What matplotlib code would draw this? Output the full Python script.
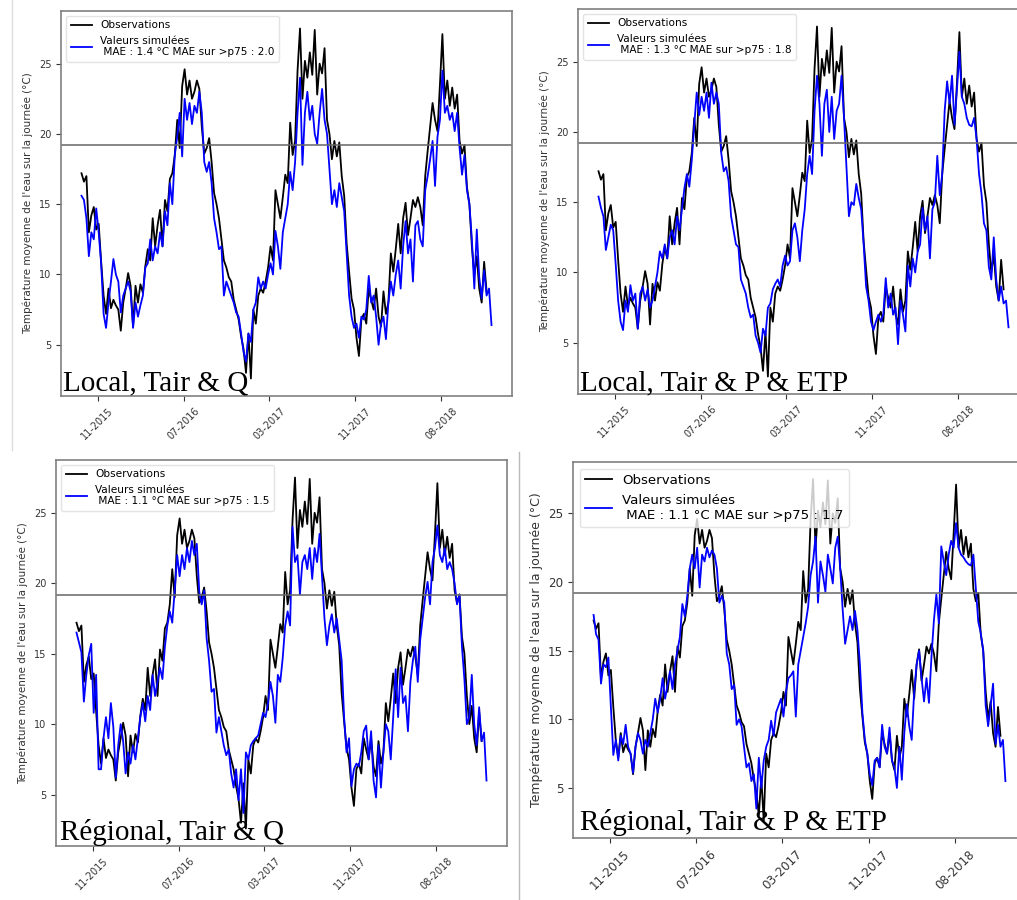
import numpy as np
import pandas as pd
import matplotlib
matplotlib.use("Agg")
import matplotlib.pyplot as plt
import matplotlib.dates as mdates
from matplotlib.ticker import FixedLocator
from matplotlib.lines import Line2D

# Weekly series of mean daily water temperature (°C)
dates = pd.date_range("2015-10-10", periods=168, freq="7D")
tick_dates = pd.date_range("2015-11-25", periods=5, freq="245D")
p75 = 19.2

nan = np.nan
obs = [
    17.2, 16.6, 17.0, 13.0, 14.2, 14.8, 13.2, 13.6, 10.9, 8.5, 7.2, 9.0,
    7.6, 8.2, 7.8, 7.5, 6.0, 8.0, 9.0, 10.1, 9.2, 6.3, 9.2, 8.0,
    9.3, 8.7, 10.6, 11.8, 11.0, 14.0, 12.0, 13.5, 14.6, 12.0, 15.3, 14.5,
    16.8, 17.2, 18.5, 21.0, 19.0, 23.4, 24.6, 22.8, 23.8, 22.5, 23.0, 23.8,
    23.2, 20.5, 18.6, 19.0, 19.7, 18.0, 15.8, 15.0, 14.0, 12.5, 11.0, 10.5,
    9.8, 9.5, 8.2, 7.5, 6.8, 5.6, 4.7, 3.0, 5.8, 2.6, 7.5, 6.5,
    8.5, 9.0, 8.7, 9.5, 10.5, 12.0, 11.0, 16.0, 15.0, 14.0, 15.5, 17.1,
    16.5, 20.8, 18.5, 19.5, 24.5, 27.5, 22.5, 25.2, 24.0, 25.8, 24.2, 27.4,
    22.8, 25.0, 24.3, 26.1, 21.0, 20.0, 18.2, 19.5, 18.4, 19.4, 17.0, 15.6,
    12.2, 10.2, 8.3, 7.5, 5.5, 4.2, 6.8, 7.2, 6.5, 9.0, 8.2, 7.5,
    9.0, 7.0, 6.3, 8.8, 7.2, 8.0, 11.5, 10.2, 11.8, 13.6, 11.5, 14.0,
    15.1, 12.8, 14.0, 15.3, 14.8, 15.5, 14.8, 13.5, 17.0, 18.8, 20.5, 22.2,
    21.0, 20.2, 23.5, 27.1, 22.5, 23.8, 22.0, 23.3, 21.8, 22.8, 19.5, 18.6,
    19.2, 16.2, 15.0, 12.0, 10.0, 11.3, 9.0, 8.0, 10.9, 8.8, nan, nan,
]

sim_local_q = [
    15.6, 15.3, 14.0, 11.3, 13.0, 12.5, 14.7, 13.0, 10.8, 7.2, 6.2, 8.0,
    9.5, 11.1, 10.0, 9.5, 7.3, 8.5, 9.0, 9.5, 8.8, 6.2, 8.0, 7.0,
    7.8, 8.5, 10.5, 10.8, 12.5, 11.0, 12.0, 11.5, 13.0, 12.0, 14.5, 13.5,
    16.5, 15.0, 18.5, 19.8, 21.5, 18.4, 22.5, 21.0, 22.2, 20.7, 22.0, 21.5,
    23.0, 21.5, 18.0, 17.3, 18.0, 16.5, 14.0, 13.0, 11.8, 12.0, 8.5, 9.5,
    9.0, 8.5, 8.0, 7.3, 7.0, 5.8, 4.5, 3.8, 5.8, 5.2, 7.5, 8.0,
    9.8, 9.0, 9.5, 9.0, 10.0, 10.8, 10.0, 13.1, 12.0, 10.4, 13.0, 14.0,
    15.0, 17.3, 16.0, 18.0, 21.5, 24.0, 17.8, 21.5, 23.0, 21.0, 22.0, 20.0,
    19.3, 21.5, 23.2, 21.0, 20.0, 17.5, 15.0, 16.0, 14.8, 16.5, 15.5, 14.5,
    11.5, 8.5, 7.0, 6.2, 6.5, 5.5, 7.0, 6.8, 7.5, 9.9, 8.0, 8.5,
    7.0, 5.0, 6.5, 7.0, 5.4, 8.0, 9.5, 8.5, 10.0, 11.0, 9.0, 12.0,
    13.8, 11.5, 12.5, 9.5, 13.5, 13.8, 12.5, 12.0, 16.0, 17.0, 18.2, 19.5,
    16.3, 19.8, 21.0, 24.5, 21.5, 22.0, 21.0, 21.5, 20.2, 21.5, 19.0, 17.1,
    18.5, 16.0, 15.0, 12.5, 9.0, 13.2, 9.8, 8.3, 10.3, 8.5, 9.0, 6.4,
]

sim_local_p_etp = [
    15.4, 14.6, 14.0, 11.6, 12.5, 13.4, 13.0, 10.6, 8.0, 6.5, 5.9, 8.0,
    7.2, 9.1, 8.0, 8.5, 6.0, 8.5, 9.0, 8.0, 8.8, 7.5, 8.0, 9.0,
    10.0, 11.5, 11.0, 12.0, 11.0, 12.5, 13.0, 12.0, 14.0, 13.0, 14.5, 16.0,
    17.0, 16.1, 18.0, 20.5, 22.8, 21.2, 22.5, 21.5, 22.8, 21.0, 23.5, 22.0,
    22.8, 22.0, 18.5, 17.2, 17.5, 16.5, 14.0, 13.0, 12.0, 11.8, 9.5, 9.0,
    8.5, 7.5, 6.8, 7.0, 5.5, 5.0, 4.3, 6.0, 5.5, 7.5, 7.8, 8.8,
    9.2, 9.5, 9.0, 10.5, 11.2, 10.5, 10.8, 13.0, 13.5, 12.5, 10.8, 13.0,
    14.5, 17.0, 18.3, 17.0, 21.5, 24.0, 22.0, 18.3, 22.0, 23.0, 20.0, 22.5,
    19.5, 21.5, 22.0, 24.0, 21.0, 17.5, 14.0, 15.0, 14.8, 16.3, 15.3, 14.5,
    12.0, 9.0, 8.0, 6.5, 5.9, 6.5, 7.0, 6.5, 7.0, 9.6, 7.5, 8.5,
    7.0, 7.5, 4.9, 8.0, 7.0, 5.8, 10.5, 9.0, 11.0, 10.0, 11.5, 12.0,
    14.6, 13.0, 14.0, 11.0, 14.5, 15.0, 18.3, 15.5, 17.0, 21.5, 23.6, 22.0,
    24.0, 20.5, 23.0, 25.7, 22.5, 22.0, 21.0, 20.5, 20.4, 21.0, 19.5, 17.0,
    15.6, 13.5, 13.0, 10.4, 9.5, 12.5, 9.5, 8.0, 9.0, 7.8, 8.0, 6.1,
]

sim_regional_q = [
    16.5, 15.8, 15.1, 11.6, 13.5, 14.9, 15.7, 10.8, 13.5, 6.8, 6.8, 9.0,
    10.5, 9.0, 11.5, 9.8, 6.2, 8.5, 10.0, 8.8, 6.5, 8.0, 7.2, 8.5,
    7.5, 9.0, 10.5, 11.5, 10.2, 12.0, 11.0, 13.5, 12.0, 13.0, 14.0, 13.2,
    15.5, 17.0, 18.0, 17.2, 19.5, 22.0, 20.5, 22.0, 21.0, 22.5, 21.5, 23.0,
    22.0, 22.8, 19.4, 18.5, 19.5, 16.1, 14.5, 12.3, 12.5, 9.4, 10.5, 9.5,
    8.5, 7.8, 8.2, 6.5, 5.5, 6.8, 4.6, 6.8, 3.7, 8.0, 7.5, 8.5,
    8.8, 9.0, 9.2, 10.0, 10.8, 10.5, 11.5, 13.0, 12.0, 10.1, 13.5, 13.0,
    14.7, 17.0, 18.0, 17.0, 24.0, 21.5, 22.0, 19.2, 21.5, 22.0, 21.0, 22.5,
    20.3, 22.5, 21.5, 23.5, 20.5, 17.5, 15.6, 17.0, 17.8, 16.5, 17.5, 16.0,
    14.5, 10.5, 8.0, 9.0, 5.6, 6.8, 7.2, 7.0, 8.0, 9.5, 9.9, 7.5,
    9.5, 6.0, 4.8, 8.5, 5.5, 8.0, 10.0, 9.5, 7.5, 10.5, 13.9, 10.5,
    14.0, 11.5, 12.0, 9.5, 13.0, 14.5, 15.5, 13.0, 16.0, 17.5, 19.0, 20.1,
    18.5, 21.5, 22.5, 24.1, 22.0, 21.5, 22.5, 21.0, 21.5, 21.0, 20.0, 18.5,
    19.2, 15.5, 13.2, 10.0, 10.5, 13.5, 10.0, 8.5, 11.2, 8.8, 9.4, 6.0,
]

sim_regional_p_etp = [
    17.6, 16.2, 15.8, 12.6, 14.0, 13.8, 14.5, 11.0, 7.4, 8.5, 7.0, 8.8,
    8.2, 9.6, 8.0, 7.5, 6.1, 8.0, 9.0, 8.5, 7.5, 8.5, 8.0, 9.0,
    10.0, 11.5, 10.5, 11.5, 13.0, 11.5, 12.5, 13.5, 12.2, 14.0, 15.0, 16.0,
    18.4, 17.5, 19.0, 21.0, 22.0, 21.0, 22.5, 19.6, 22.0, 21.5, 22.5, 21.8,
    22.3, 22.0, 21.0, 18.5, 19.0, 18.5, 14.8, 14.0, 12.2, 12.5, 9.6, 10.0,
    9.5, 8.0, 6.5, 6.8, 5.5, 6.0, 3.5, 7.2, 5.0, 7.0, 8.0, 8.5,
    9.9, 8.8, 10.5, 11.0, 11.5, 10.2, 12.0, 13.0, 13.2, 13.5, 10.2, 14.0,
    15.0, 16.0, 17.0, 18.2, 20.5, 21.5, 23.3, 18.5, 21.5, 20.5, 19.3, 22.0,
    21.0, 19.9, 22.5, 23.3, 21.0, 18.0, 15.5, 16.5, 17.5, 16.5, 17.9, 16.5,
    14.0, 10.5, 8.5, 7.5, 6.0, 5.2, 7.0, 7.2, 6.5, 9.6, 8.0, 7.5,
    9.4, 7.0, 6.5, 5.0, 8.0, 5.6, 9.0, 11.1, 9.5, 8.5, 12.0, 14.0,
    15.0, 13.0, 11.3, 13.0, 11.2, 14.5, 17.2, 19.1, 17.0, 22.6, 21.5, 20.5,
    22.0, 23.0, 22.5, 24.3, 22.5, 22.0, 21.8, 21.5, 21.3, 21.2, 22.0, 19.5,
    17.1, 16.3, 15.0, 11.0, 9.5, 11.0, 12.6, 8.2, 9.6, 8.0, 8.5, 5.5,
]

simulations = [sim_local_q, sim_local_p_etp, sim_regional_q, sim_regional_p_etp]
titles = ["Local, Tair & Q", "Local, Tair & P & ETP",
          "Régional, Tair & Q", "Régional, Tair & P & ETP"]
mae = [1.4, 1.3, 1.1, 1.1]
mae_p75 = [2.0, 1.8, 1.5, 1.7]

W, H = 1017, 900
fig = plt.figure(figsize=(W / 100, H / 100), dpi=100)

# panel boxes in pixels: left, top, right, bottom
boxes = [(61, 11, 512, 396), (578, 9, 1029, 394),
         (56, 460, 507, 846), (573, 462, 1026, 838)]
title_xy = [(63, 390), (580, 390), (60, 840), (580, 830)]
tick_fs = [7, 7, 7, 8.6]
ylab_fs = [7.5, 7.5, 7.5, 9]
leg_fs = [7.6, 7.6, 7.6, 9.6]

for i in range(4):
    l, t, r, b = boxes[i]
    ax = fig.add_axes([l / W, 1 - b / H, (r - l) / W, (b - t) / H])
    ax.plot(dates, obs, color="black", lw=1.3, label="Observations")
    ax.plot(dates, simulations[i], color="blue", lw=1.3,
            label=f"Valeurs simulées\n MAE : {mae[i]} °C MAE sur >p75 : {mae_p75[i]}")
    ax.axhline(p75, color="#666666", lw=1.1)
    ax.xaxis.set_major_locator(FixedLocator(mdates.date2num(tick_dates)))
    ax.xaxis.set_major_formatter(mdates.DateFormatter("%m-%Y"))
    ax.tick_params(labelsize=tick_fs[i], colors="#333333")
    for lab in ax.get_xticklabels():
        lab.set_rotation(45)
    ax.set_ylabel("Température moyenne de l'eau sur la journée (°C)",
                  fontsize=ylab_fs[i], color="#333333")
    for sp in ax.spines.values():
        sp.set_color("#808080")
        sp.set_linewidth(1.2)
    leg = ax.legend(loc="upper left", fontsize=leg_fs[i])
    leg.get_frame().set_edgecolor("#dddddd")
    tx, ty = title_xy[i]
    fig.text(tx / W, 1 - ty / H, titles[i], family="Liberation Serif",
             fontsize=21, va="baseline", ha="left", color="black")

# thin separators between the panels
fig.add_artist(Line2D([12 / W, 12 / W], [1.0, 1 - 450 / H], color="#dddddd", lw=1))
fig.add_artist(Line2D([519 / W, 519 / W], [1 - 452 / H, 0.0], color="#bbbbbb", lw=1))

fig.savefig("out.png", dpi=100)
